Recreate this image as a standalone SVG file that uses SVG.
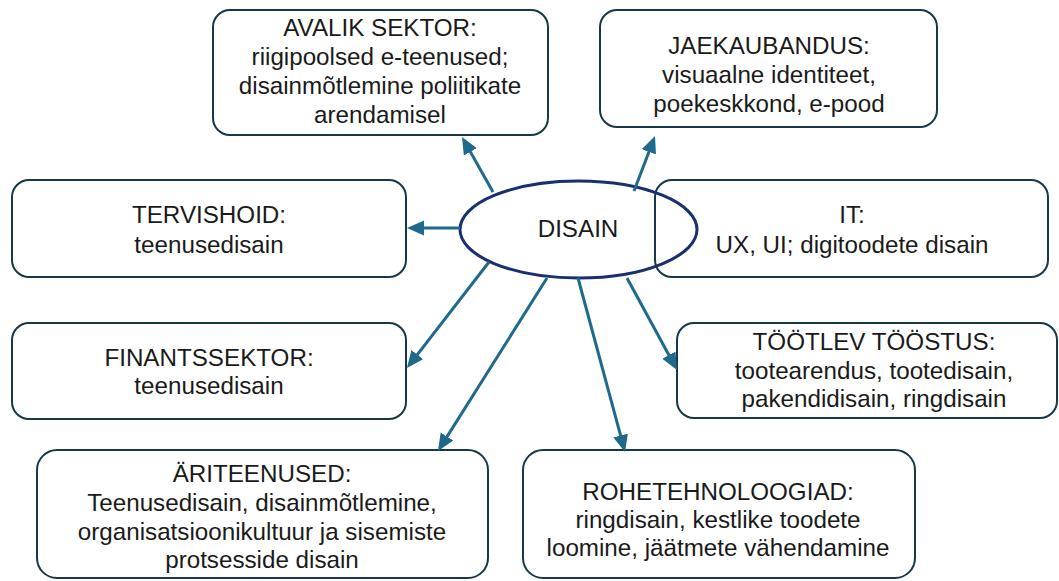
<svg xmlns="http://www.w3.org/2000/svg" width="1059" height="581" viewBox="0 0 1059 581">
<style>
.box{fill:#ffffff;stroke:#17384a;stroke-width:2}
.t{font-family:"Liberation Sans",Arial,sans-serif;font-size:24.2px;fill:#1a1a1a;text-anchor:middle}
.arr{stroke:#1f6a8c;stroke-width:3;fill:none;marker-end:url(#ah)}
</style>
<defs>
<marker id="ah" markerUnits="userSpaceOnUse" markerWidth="18" markerHeight="16" viewBox="0 0 18 16" refX="13" refY="7.5" orient="auto">
<path d="M0,0 L17,7.5 L0,15 z" fill="#1f6a8c"/>
</marker>
</defs>
<g id="avalik">
<rect class="box" x="213" y="10" width="335" height="125" rx="17"/>
<text class="t" x="380" y="36">AVALIK SEKTOR:</text>
<text class="t" x="380" y="65">riigipoolsed e-teenused;</text>
<text class="t" x="380" y="94">disainmõtlemine poliitikate</text>
<text class="t" x="380" y="123">arendamisel</text>
</g>
<g id="jaekaubandus">
<rect class="box" x="600" y="10" width="337" height="117" rx="17"/>
<text class="t" x="769" y="54">JAEKAUBANDUS:</text>
<text class="t" x="769" y="83">visuaalne identiteet,</text>
<text class="t" x="769" y="112">poekeskkond, e-pood</text>
</g>
<g id="tervishoid">
<rect class="box" x="12" y="180" width="394" height="97" rx="17"/>
<text class="t" x="209" y="223">TERVISHOID:</text>
<text class="t" x="209" y="253">teenusedisain</text>
</g>
<g id="it">
<rect class="box" x="655" y="180" width="393" height="97" rx="17"/>
<text class="t" x="852" y="223">IT:</text>
<text class="t" x="852" y="253">UX, UI; digitoodete disain</text>
</g>
<g id="finantssektor">
<rect class="box" x="12" y="323" width="394" height="96" rx="17"/>
<text class="t" x="209" y="366">FINANTSSEKTOR:</text>
<text class="t" x="209" y="394">teenusedisain</text>
</g>
<g id="tootlev">
<rect class="box" x="677" y="323" width="380" height="95" rx="17"/>
<text class="t" x="874" y="350">TÖÖTLEV TÖÖSTUS:</text>
<text class="t" x="874" y="379">tootearendus, tootedisain,</text>
<text class="t" x="874" y="407">pakendidisain, ringdisain</text>
</g>
<g id="ariteenused">
<rect class="box" x="37" y="450" width="451" height="128" rx="20"/>
<text class="t" x="262" y="482">ÄRITEENUSED:</text>
<text class="t" x="262" y="511">Teenusedisain, disainmõtlemine,</text>
<text class="t" x="262" y="540">organisatsioonikultuur ja sisemiste</text>
<text class="t" x="262" y="568">protsesside disain</text>
</g>
<g id="rohetehnoloogiad">
<rect class="box" x="523" y="450" width="392" height="128" rx="20"/>
<text class="t" x="718" y="500">ROHETEHNOLOOGIAD:</text>
<text class="t" x="718" y="528">ringdisain, kestlike toodete</text>
<text class="t" x="718" y="556">loomine, jäätmete vähendamine</text>
</g>
<g id="disain">
<ellipse cx="578.5" cy="229.5" rx="118.5" ry="48.5" fill="none" stroke="#1a2f6e" stroke-width="3"/>
<text class="t" x="578" y="237">DISAIN</text>
</g>
<g id="connectors">
<line class="arr" x1="493" y1="192" x2="464" y2="140.5"/>
<line class="arr" x1="634" y1="191" x2="653.6" y2="139.7"/>
<line class="arr" x1="460" y1="228" x2="411" y2="228"/>
<line class="arr" x1="489" y1="262" x2="409.4" y2="364.8"/>
<line class="arr" x1="547" y1="278" x2="440.1" y2="447.6"/>
<line class="arr" x1="578" y1="278" x2="624" y2="448.1"/>
<line class="arr" x1="627" y1="278" x2="675.1" y2="366.5"/>
</g>
</svg>
